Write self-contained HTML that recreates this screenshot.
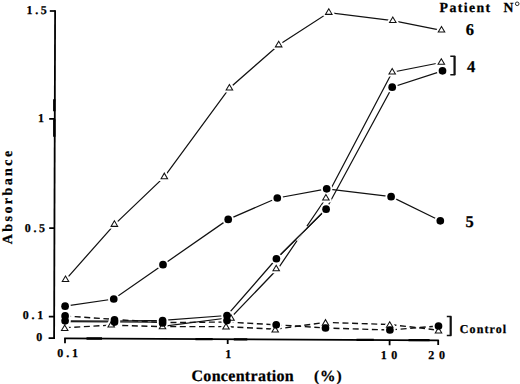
<!DOCTYPE html>
<html><head><meta charset="utf-8"><style>
html,body{margin:0;padding:0;background:#fff;width:520px;height:384px;overflow:hidden}
svg{display:block}
</style></head><body>
<svg width="520" height="384" viewBox="0 0 520 384">
<style>
.s{fill:none;stroke:#111;stroke-width:1.25}
.d{fill:none;stroke:#111;stroke-width:1.4;stroke-dasharray:6 3.6}
.t{fill:#fff;stroke:#111;stroke-width:1.05;stroke-linejoin:miter}
.ax{fill:none;stroke:#111;stroke-width:1.6}
text{font-family:"Liberation Serif",serif;font-weight:bold;fill:#000;stroke:#000;stroke-width:0.25;text-rendering:geometricPrecision}
</style>
<!-- y axis -->
<path d="M49.8,11 H55.2" stroke="#000" stroke-width="1.7"/>
<path d="M55.1,10.2 L54.1,339.1" stroke="#000" stroke-width="1.8"/>
<path d="M49.2,118.8 H55 M49.2,228.2 H54.8 M48.8,316.6 H54.5 M48.6,338.2 H54.5" stroke="#000" stroke-width="1.7"/>
<path d="M54.3,99.2 V111.3 M54.3,119.2 V136.7" stroke="#000" stroke-width="2.4"/>
<!-- x axis -->
<path d="M65,343.2 V338.3" stroke="#000" stroke-width="1.8"/>
<path d="M64.2,338.4 L438.8,340.4" stroke="#000" stroke-width="1.7"/>
<path d="M438.2,340 V345 M227.7,339 V344 M389.6,339.8 V345.2" stroke="#000" stroke-width="1.8"/>
<path d="M86.5,338.5 H102 M195.4,339.1 H212.7 M233.8,339.3 H247.3 M356.5,339.9 H373.8 M408.5,340.1 H429.6" stroke="#000" stroke-width="2.3"/>
<polyline points="65.50,279.80 114.40,224.60 164.30,176.90 229.40,88.20 278.70,45.10 328.80,12.60 392.80,20.70 441.50,30.30" class="s"/><polyline points="65.10,306.20 113.75,299.00 163.00,264.70 228.20,219.40 277.30,198.00 326.70,188.80 391.10,196.70 440.30,220.80" class="s"/><polyline points="65.10,320.80 114.50,321.00 162.60,320.40 227.00,315.50 276.40,258.75 326.10,209.20 392.20,87.20 442.50,70.80" class="s"/><polyline points="65.10,321.60 114.50,322.00 162.60,322.00" class="s"/><polyline points="162.60,326.30 231.00,317.50 278.40,268.00 325.90,198.30 392.20,72.20 441.30,62.50" class="s"/><path d="M296.8,240.5 L306.6,226" stroke="#fff" stroke-width="2.2"/><polyline points="276.40,258.75 326.10,209.20" class="s"/><polyline points="65.10,315.90 114.50,319.40 162.60,322.60 227.00,322.00 276.20,324.80 325.50,328.00 389.90,330.00 438.50,326.00" class="d"/><polyline points="64.70,327.70 110.80,325.20 162.50,326.60 226.00,326.60 275.20,329.20 325.50,322.40 389.70,324.50 438.50,330.20" class="d"/>
<polygon points="62.25,281.55 65.50,276.05 68.75,281.55" fill="#fff" stroke="#fff" stroke-width="5" stroke-linejoin="round"/><polygon points="111.15,226.35 114.40,220.85 117.65,226.35" fill="#fff" stroke="#fff" stroke-width="5" stroke-linejoin="round"/><polygon points="161.05,178.65 164.30,173.15 167.55,178.65" fill="#fff" stroke="#fff" stroke-width="5" stroke-linejoin="round"/><polygon points="226.15,89.95 229.40,84.45 232.65,89.95" fill="#fff" stroke="#fff" stroke-width="5" stroke-linejoin="round"/><polygon points="275.45,46.85 278.70,41.35 281.95,46.85" fill="#fff" stroke="#fff" stroke-width="5" stroke-linejoin="round"/><polygon points="325.55,14.35 328.80,8.85 332.05,14.35" fill="#fff" stroke="#fff" stroke-width="5" stroke-linejoin="round"/><polygon points="389.55,22.45 392.80,16.95 396.05,22.45" fill="#fff" stroke="#fff" stroke-width="5" stroke-linejoin="round"/><polygon points="438.25,32.05 441.50,26.55 444.75,32.05" fill="#fff" stroke="#fff" stroke-width="5" stroke-linejoin="round"/><polygon points="227.75,320.25 231.00,314.75 234.25,320.25" fill="#fff" stroke="#fff" stroke-width="5" stroke-linejoin="round"/><polygon points="272.95,270.75 276.20,265.25 279.45,270.75" fill="#fff" stroke="#fff" stroke-width="5" stroke-linejoin="round"/><polygon points="322.65,200.05 325.90,194.55 329.15,200.05" fill="#fff" stroke="#fff" stroke-width="5" stroke-linejoin="round"/><polygon points="388.95,73.95 392.20,68.45 395.45,73.95" fill="#fff" stroke="#fff" stroke-width="5" stroke-linejoin="round"/><polygon points="438.05,64.25 441.30,58.75 444.55,64.25" fill="#fff" stroke="#fff" stroke-width="5" stroke-linejoin="round"/><polygon points="61.45,330.45 64.70,324.95 67.95,330.45" fill="#fff" stroke="#fff" stroke-width="5" stroke-linejoin="round"/><polygon points="107.95,326.95 111.20,321.45 114.45,326.95" fill="#fff" stroke="#fff" stroke-width="5" stroke-linejoin="round"/><polygon points="159.25,328.75 162.50,323.25 165.75,328.75" fill="#fff" stroke="#fff" stroke-width="5" stroke-linejoin="round"/><polygon points="222.75,329.05 226.00,323.55 229.25,329.05" fill="#fff" stroke="#fff" stroke-width="5" stroke-linejoin="round"/><polygon points="271.95,331.95 275.20,326.45 278.45,331.95" fill="#fff" stroke="#fff" stroke-width="5" stroke-linejoin="round"/><polygon points="322.25,325.15 325.50,319.65 328.75,325.15" fill="#fff" stroke="#fff" stroke-width="5" stroke-linejoin="round"/><polygon points="386.45,327.25 389.70,321.75 392.95,327.25" fill="#fff" stroke="#fff" stroke-width="5" stroke-linejoin="round"/><polygon points="435.25,332.95 438.50,327.45 441.75,332.95" fill="#fff" stroke="#fff" stroke-width="5" stroke-linejoin="round"/><circle cx="65.1" cy="306.2" r="5.75" fill="#fff"/><circle cx="113.75" cy="299" r="5.75" fill="#fff"/><circle cx="163" cy="264.7" r="5.75" fill="#fff"/><circle cx="228.2" cy="219.4" r="5.75" fill="#fff"/><circle cx="277.3" cy="198" r="5.75" fill="#fff"/><circle cx="326.7" cy="188.8" r="5.75" fill="#fff"/><circle cx="391.1" cy="196.7" r="5.75" fill="#fff"/><circle cx="440.3" cy="220.8" r="5.75" fill="#fff"/><circle cx="65.1" cy="320.8" r="5.75" fill="#fff"/><circle cx="114.5" cy="319.9" r="5.75" fill="#fff"/><circle cx="162.6" cy="320.6" r="5.75" fill="#fff"/><circle cx="227" cy="315.5" r="5.75" fill="#fff"/><circle cx="276.4" cy="258.75" r="5.75" fill="#fff"/><circle cx="326.1" cy="209.2" r="5.75" fill="#fff"/><circle cx="392.2" cy="87.2" r="5.75" fill="#fff"/><circle cx="442.5" cy="70.8" r="5.75" fill="#fff"/><circle cx="65.1" cy="315.9" r="5.75" fill="#fff"/><circle cx="114.5" cy="322.1" r="5.75" fill="#fff"/><circle cx="162.6" cy="323.0" r="5.75" fill="#fff"/><circle cx="227" cy="320.6" r="5.75" fill="#fff"/><circle cx="276.2" cy="324.8" r="5.75" fill="#fff"/><circle cx="325.5" cy="328" r="5.75" fill="#fff"/><circle cx="389.9" cy="330" r="5.75" fill="#fff"/><circle cx="438.5" cy="326" r="5.75" fill="#fff"/>
<polygon points="62.25,281.55 65.50,276.05 68.75,281.55" class="t"/><polygon points="111.15,226.35 114.40,220.85 117.65,226.35" class="t"/><polygon points="161.05,178.65 164.30,173.15 167.55,178.65" class="t"/><polygon points="226.15,89.95 229.40,84.45 232.65,89.95" class="t"/><polygon points="275.45,46.85 278.70,41.35 281.95,46.85" class="t"/><polygon points="325.55,14.35 328.80,8.85 332.05,14.35" class="t"/><polygon points="389.55,22.45 392.80,16.95 396.05,22.45" class="t"/><polygon points="438.25,32.05 441.50,26.55 444.75,32.05" class="t"/><polygon points="227.75,320.25 231.00,314.75 234.25,320.25" class="t"/><polygon points="272.95,270.75 276.20,265.25 279.45,270.75" class="t"/><polygon points="322.65,200.05 325.90,194.55 329.15,200.05" class="t"/><polygon points="388.95,73.95 392.20,68.45 395.45,73.95" class="t"/><polygon points="438.05,64.25 441.30,58.75 444.55,64.25" class="t"/><polygon points="61.45,330.45 64.70,324.95 67.95,330.45" class="t"/><polygon points="107.95,326.95 111.20,321.45 114.45,326.95" class="t"/><polygon points="159.25,328.75 162.50,323.25 165.75,328.75" class="t"/><polygon points="222.75,329.05 226.00,323.55 229.25,329.05" class="t"/><polygon points="271.95,331.95 275.20,326.45 278.45,331.95" class="t"/><polygon points="322.25,325.15 325.50,319.65 328.75,325.15" class="t"/><polygon points="386.45,327.25 389.70,321.75 392.95,327.25" class="t"/><polygon points="435.25,332.95 438.50,327.45 441.75,332.95" class="t"/><circle cx="65.1" cy="306.2" r="3.85" fill="#000"/><circle cx="113.75" cy="299" r="3.85" fill="#000"/><circle cx="163" cy="264.7" r="3.85" fill="#000"/><circle cx="228.2" cy="219.4" r="3.85" fill="#000"/><circle cx="277.3" cy="198" r="3.85" fill="#000"/><circle cx="326.7" cy="188.8" r="3.85" fill="#000"/><circle cx="391.1" cy="196.7" r="3.85" fill="#000"/><circle cx="440.3" cy="220.8" r="3.85" fill="#000"/><circle cx="65.1" cy="320.8" r="3.85" fill="#000"/><circle cx="114.5" cy="319.9" r="3.85" fill="#000"/><circle cx="162.6" cy="320.6" r="3.85" fill="#000"/><circle cx="227" cy="315.5" r="3.85" fill="#000"/><circle cx="276.4" cy="258.75" r="3.85" fill="#000"/><circle cx="326.1" cy="209.2" r="3.85" fill="#000"/><circle cx="392.2" cy="87.2" r="3.85" fill="#000"/><circle cx="442.5" cy="70.8" r="3.85" fill="#000"/><circle cx="65.1" cy="315.9" r="3.85" fill="#000"/><circle cx="114.5" cy="322.1" r="3.85" fill="#000"/><circle cx="162.6" cy="323.0" r="3.85" fill="#000"/><circle cx="227" cy="320.6" r="3.85" fill="#000"/><circle cx="276.2" cy="324.8" r="3.85" fill="#000"/><circle cx="325.5" cy="328" r="3.85" fill="#000"/><circle cx="389.9" cy="330" r="3.85" fill="#000"/><circle cx="438.5" cy="326" r="3.85" fill="#000"/>
<!-- brackets -->
<path d="M450.3,56.2 H454.5 V74.7 H450.3" fill="none" stroke="#111" stroke-width="1.5"/><path d="M454.6,56 V75" stroke="#111" stroke-width="2"/>
<path d="M446.8,316.4 H450.6 V335.6 H446.8" fill="none" stroke="#111" stroke-width="1.5"/><path d="M450.7,316.2 V335.8" stroke="#111" stroke-width="2"/>
<!-- y tick labels -->
<text x="26.6" y="14.2" font-size="12" letter-spacing="2.6">1.5</text>
<text x="38" y="122" font-size="12">1</text>
<text x="24.8" y="231.5" font-size="12" letter-spacing="2.6">0.5</text>
<text x="22.7" y="319" font-size="12" letter-spacing="2.8">0.1</text>
<text x="36.3" y="341" font-size="12">0</text>
<!-- x tick labels -->
<text x="57.3" y="356.8" font-size="12" letter-spacing="2.9">0.1</text>
<text x="225.2" y="357.8" font-size="12">1</text>
<text x="380.8" y="358.7" font-size="12" letter-spacing="4.4">10</text>
<text x="428.3" y="358.7" font-size="12" letter-spacing="4.7">20</text>
<!-- axis titles -->
<text x="191.5" y="380.8" font-size="16" letter-spacing="0.3">Concentration</text>
<text x="313.9" y="380.8" font-size="15.5" letter-spacing="1">(%)</text>
<text transform="translate(11.5,244.2) rotate(-90)" font-size="14" letter-spacing="2.42">Absorbance</text>
<!-- legend -->
<text x="439.6" y="11.5" font-size="13.8" letter-spacing="1.4">Patient</text>
<text x="503.5" y="11.5" font-size="13.8">N</text><circle cx="517.2" cy="3.8" r="1.8" fill="none" stroke="#111" stroke-width="0.9"/>
<text x="465.8" y="35" font-size="16.5">6</text>
<text x="466.9" y="72.3" font-size="16.5">4</text>
<text x="465.4" y="226.7" font-size="16.5">5</text>
<text x="459.8" y="333" font-size="12" letter-spacing="1.1">Control</text>
</svg>
</body></html>
